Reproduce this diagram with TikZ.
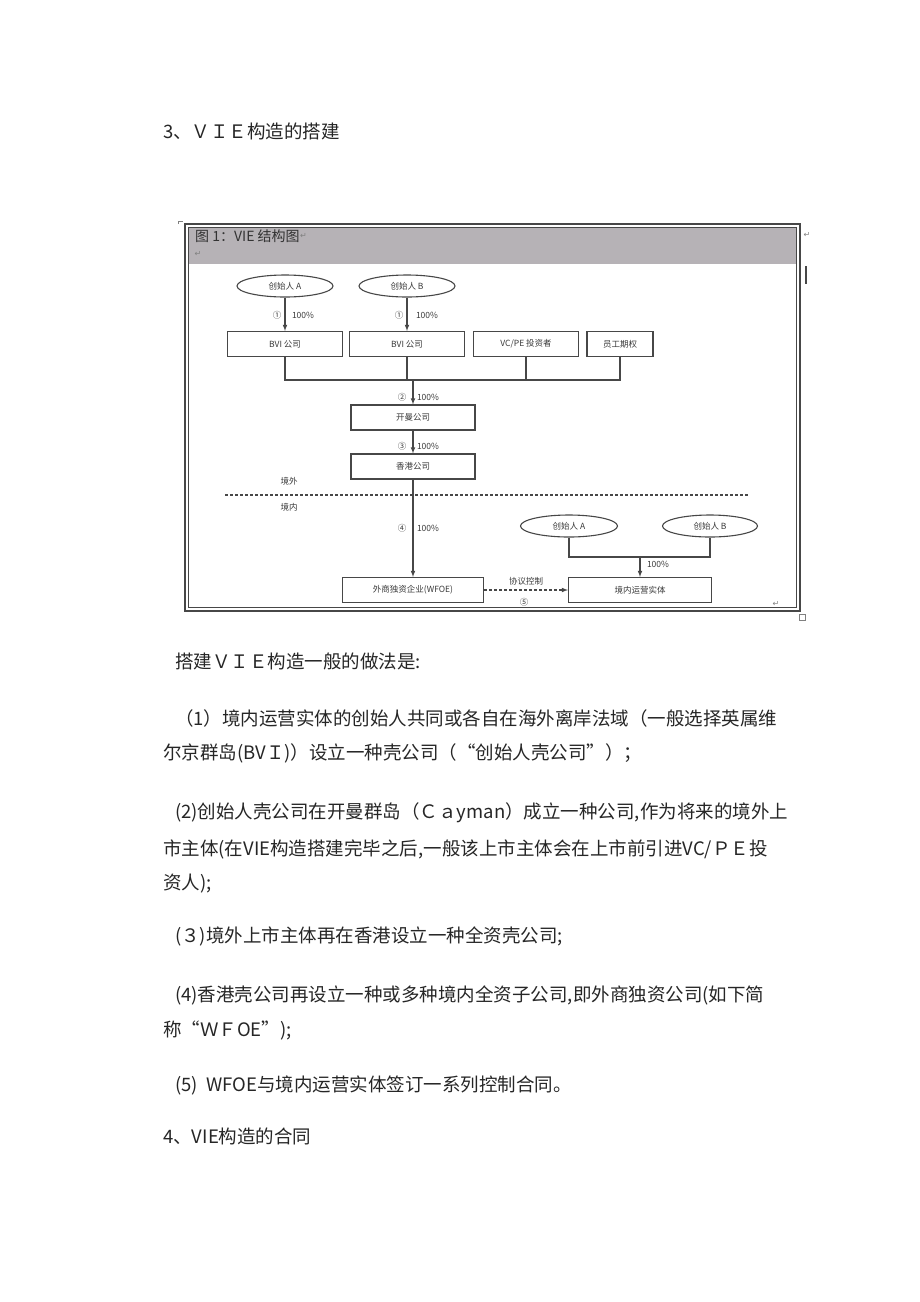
\documentclass[tikz,border=0pt]{standalone}
\usepackage{fontspec}
\setmainfont{Noto Sans CJK SC}
\newfontfamily\markfont{DejaVu Sans}
\usetikzlibrary{positioning, arrows, shapes.geometric}
\XeTeXlinebreaklocale "zh"
\XeTeXlinebreakskip=0pt plus 4pt
\definecolor{barGray}{HTML}{B6B2B6}
\definecolor{lineGray}{HTML}{474747}
\definecolor{textGray}{HTML}{3A3A3A}
\newcommand{\diagfont}{\fontsize{8.5}{10}\selectfont}
\newcommand{\bodyfont}{\fontsize{18.5}{22}\selectfont}

\begin{document}
\begin{tikzpicture}[x=1pt, y=-1pt,
	box/.style={draw=lineGray, line width=1.1pt, rectangle, minimum height=25pt, inner sep=0pt, text=textGray, font=\diagfont},
	owner/.style={draw=lineGray, line width=1.1pt, ellipse, minimum height=22pt, inner sep=0pt, text=textGray, font=\diagfont},
	lbl/.style={inner sep=0pt, text=textGray, font=\diagfont},
	body/.style={anchor=west, inner sep=0pt, font=\bodyfont, text=black!85},
	editmark/.style={inner sep=0pt, text=gray, font=\markfont\fontsize{8}{8}\selectfont}]
			
			\useasboundingbox (0,0) rectangle (920,1302);
			\fill[white] (0,0) rectangle (920,1302);
			
			\node (hdBuild) at (163,131) [body] {3、ＶＩＥ构造的搭建};
			
			% figure frame
			\fill[barGray] (188,227) rectangle (797,264);
			\draw[lineGray, line width=1.6pt] (185,224) rectangle (800,611);
			\draw[lineGray, line width=0.6pt] (188.5,227.5) rectangle (796.5,607.5);
			\node (figTitle) at (195,236) [anchor=west, inner sep=0pt, text=black!80, font=\fontsize{14}{16}\selectfont] {图\ 1：VIE 结构图};
			\node (figMark1) at (figTitle.east) [editmark, anchor=west] {↵};
			\node (figMark2) at (198,254) [editmark] {↵};
			\node (figMark3) at (807,235) [editmark] {↵};
			\node (figMark4) at (776,604) [editmark] {↵};
			\draw[lineGray, line width=1.5pt] (806,266) -- (806,284);
			\draw[gray, line width=0.5pt] (799,614) rectangle (805,620);
			\draw[gray, line width=0.5pt] (178,224) -- (178,221) -- (183,221);
			
			% offshore part
			\node (founderA1) at (285,286) [owner, minimum width=96pt]{创始人 A};
			\node (founderB1) at (407,286) [owner, minimum width=96pt]{创始人 B};
			
			\node (bvi1) at (285,344) [box, minimum width=115pt]{BVI 公司};
			\node (bvi2) at (407,344) [box, minimum width=115pt]{BVI 公司};
			\node (vcpe) at (526,344) [box, minimum width=105pt]{VC/PE 投资者};
			\node (esop) at (620,344) [box, minimum width=66pt]{员工期权};
			
			\draw[-latex, lineGray, line width=1.1pt] (founderA1) -- (bvi1);
			\draw[-latex, lineGray, line width=1.1pt] (founderB1) -- (bvi2);
			\node (no1a) at (277,315) [lbl]{①};
			\node (pct1a) at (303,315) [lbl]{100\%};
			\node (no1b) at (399,315) [lbl]{①};
			\node (pct1b) at (427,315) [lbl]{100\%};
			
			\coordinate (join) at (413,380);
			\draw[lineGray, line width=1.1pt] (bvi1.south) |- (join) -| (esop.south);
			\draw[lineGray, line width=1.1pt] (bvi2.south) -- (bvi2.south |- join);
			\draw[lineGray, line width=1.1pt] (vcpe.south) -- (vcpe.south |- join);
			
			\node (cayman) at (413,417.5) [box, minimum width=124pt]{开曼公司};
			\node (hongKong) at (413,466.5) [box, minimum width=124pt]{香港公司};
			
			\draw[-latex, lineGray, line width=1.1pt] (join) -- (cayman);
			\node (no2) at (402,397) [lbl]{②};
			\node (pct2) at (428,397) [lbl]{100\%};
			
			\draw[-latex, lineGray, line width=1.1pt] (cayman) -- (hongKong);
			\node (no3) at (402,446) [lbl]{③};
			\node (pct3) at (428,446) [lbl]{100\%};
			
			% border line
			\node (offshore) at (289,481) [lbl]{境外};
			\node (onshore) at (289,507) [lbl]{境内};
			\coordinate (borderL) at (225,495);
			\coordinate (borderR) at (748,495);
			\draw[lineGray, line width=1.1pt, dash pattern=on 3pt off 2pt] (borderL) -- (borderR);
			
			% onshore part
			\node (wfoe) at (413,590) [box, minimum width=141pt]{外商独资企业(WFOE)};
			\draw[-latex, lineGray, line width=1.1pt] (hongKong) -- (wfoe);
			\node (no4) at (402,528) [lbl]{④};
			\node (pct4) at (428,528) [lbl]{100\%};
			
			\node (founderA2) at (569,526) [owner, minimum width=97pt]{创始人 A};
			\node (founderB2) at (710,526) [owner, minimum width=95pt]{创始人 B};
			\node (opCo) at (640,590) [box, minimum width=143pt]{境内运营实体};
			
			\coordinate (merge) at (640,557);
			\draw[lineGray, line width=1.1pt] (founderA2.south) |- (merge) -| (founderB2.south);
			\draw[-latex, lineGray, line width=1.1pt] (merge) -- (opCo);
			\node (pct5) at (658,564) [lbl]{100\%};
			
			\draw[-latex, lineGray, line width=1.1pt, dash pattern=on 3pt off 2pt] (wfoe) -- (opCo);
			\node (contract) at (526,581) [lbl]{协议控制};
			\node (no5) at (524,602) [lbl]{⑤};
			
			% text below the figure
			\node (intro) at (175,661) [body] {搭建ＶＩＥ构造一般的做法是:};
			\node (step1a) at (175,718) [body] {\makebox[608pt][s]{（1）境内运营实体的创始人共同或各自在海外离岸法域（一般选择英属维}};
			\node (step1b) at (163,753) [body] {尔京群岛(BVＩ)）设立一种壳公司（“创始人壳公司”）；};
			\node (step2a) at (175,813) [body] {\makebox[608pt][s]{(2)创始人壳公司在开曼群岛（Ｃａyman）成立一种公司,作为将来的境外上}};
			\node (step2b) at (163,849) [body] {\makebox[620pt][s]{市主体(在VIE构造搭建完毕之后,一般该上市主体会在上市前引进VC/ＰＥ投}};
			\node (step2c) at (163,884) [body] {资人);};
			\node (step3) at (175,936) [body] {(３)境外上市主体再在香港设立一种全资壳公司;};
			\node (step4a) at (175,995) [body] {\makebox[608pt][s]{(4)香港壳公司再设立一种或多种境内全资子公司,即外商独资公司(如下简}};
			\node (step4b) at (163,1030) [body] {称“ＷＦOE”);};
			\node (step5) at (175,1085) [body] {(5)\ \ WFOE与境内运营实体签订一系列控制合同。};
			\node (hdContract) at (163,1136) [body] {4、VIE构造的合同};
			
\end{tikzpicture}
\end{document}
